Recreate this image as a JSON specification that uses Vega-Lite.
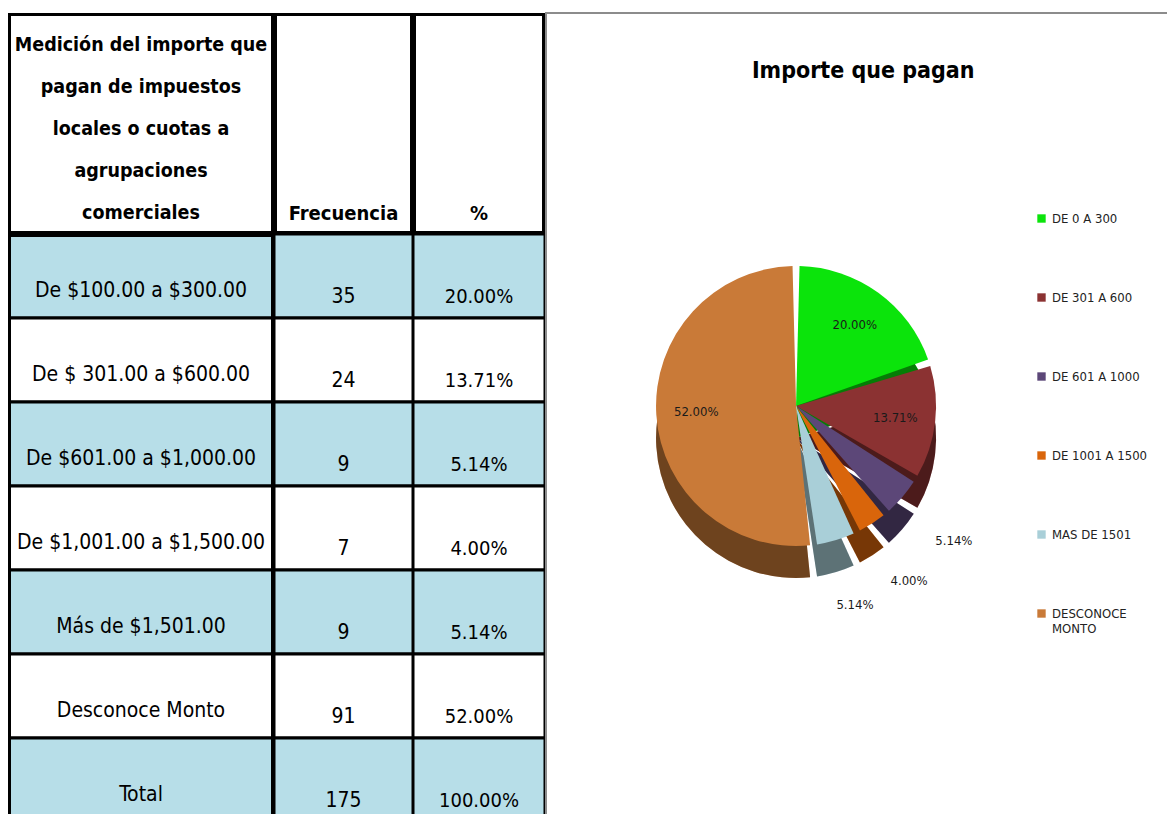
{
  "$schema": "https://vega.github.io/schema/vega-lite/v6.json",
  "padding": {"left": 8, "top": 12, "right": 0, "bottom": 0},
  "background": "white",
  "config": {
    "view": {"stroke": null},
    "concat": {"spacing": 0},
    "font": "DejaVu Sans Condensed, sans-serif"
  },
  "datasets": {
    "rows": [
      {"row": 1, "label": "De $100.00 a $300.00", "freq": "35", "pct": "20.00%"},
      {"row": 2, "label": "De $ 301.00 a $600.00", "freq": "24", "pct": "13.71%"},
      {"row": 3, "label": "De $601.00 a $1,000.00", "freq": "9", "pct": "5.14%"},
      {"row": 4, "label": "De $1,001.00 a $1,500.00", "freq": "7", "pct": "4.00%"},
      {"row": 5, "label": "Más de $1,501.00", "freq": "9", "pct": "5.14%"},
      {"row": 6, "label": "Desconoce Monto", "freq": "91", "pct": "52.00%"},
      {"row": 7, "label": "Total", "freq": "175", "pct": "100.00%"}
    ],
    "pie": [
      {"idx": 1, "cat": "DE 0 A 300", "freq": 35, "pct": "20.00%"},
      {"idx": 2, "cat": "DE 301 A 600", "freq": 24, "pct": "13.71%"},
      {"idx": 3, "cat": "DE 601 A 1000", "freq": 9, "pct": "5.14%"},
      {"idx": 4, "cat": "DE 1001 A 1500", "freq": 7, "pct": "4.00%"},
      {"idx": 5, "cat": "MAS DE 1501", "freq": 9, "pct": "5.14%"},
      {"idx": 6, "cat": "DESCONOCE MONTO", "freq": 91, "pct": "52.00%"}
    ]
  },
  "spacing": 0,
  "hconcat": [
    {
      "spacing": 0,
      "vconcat": [
        {
          "spacing": 0,
          "hconcat": [
            {
              "width": 266, "height": 221,
              "data": {"values": [{"t": "Medición del importe que|pagan de impuestos|locales o cuotas a|agrupaciones|comerciales"}]},
              "layer": [
                {"mark": {"type": "rect", "fill": "white", "stroke": "black", "strokeWidth": 6, "clip": true}, "encoding": {}},
                {"mark": {"type": "text", "fontSize": 19.5, "fontWeight": "bold", "lineBreak": "|", "lineHeight": 42, "baseline": "middle", "dy": -79, "color": "black", "clip": true},
                 "encoding": {"text": {"field": "t", "type": "nominal"}}}
              ]
            },
            {
              "width": 139, "height": 221,
              "data": {"values": [{"t": "Frecuencia"}]},
              "layer": [
                {"mark": {"type": "rect", "fill": "white", "stroke": "black", "strokeWidth": 6, "clip": true}, "encoding": {}},
                {"mark": {"type": "text", "fontSize": 20, "fontWeight": "bold", "baseline": "middle", "dy": 90, "color": "black", "clip": true},
                 "encoding": {"text": {"field": "t", "type": "nominal"}}}
              ]
            },
            {
              "width": 132, "height": 221,
              "data": {"values": [{"t": "%"}]},
              "layer": [
                {"mark": {"type": "rect", "fill": "white", "stroke": "black", "strokeWidth": 6, "clip": true}, "encoding": {}},
                {"mark": {"type": "text", "fontSize": 20, "fontWeight": "bold", "baseline": "middle", "dy": 90, "color": "black", "clip": true},
                 "encoding": {"text": {"field": "t", "type": "nominal"}}}
              ]
            }
          ]
        },
        {
          "spacing": 0,
          "hconcat": [
            {
              "width": 266, "height": 588,
              "data": {"name": "rows"},
              "encoding": {"y": {"field": "row", "type": "ordinal", "axis": null, "scale": {"paddingInner": 0, "paddingOuter": 0}}},
              "layer": [
                {"mark": {"type": "rect", "stroke": "black", "strokeWidth": 3, "clip": true},
                 "encoding": {"fill": {"condition": {"test": "datum.row % 2 == 1", "value": "#B7DEE8"}, "value": "white"}}},
                {"mark": {"type": "rect", "fill": null, "stroke": "black", "strokeWidth": 6, "clip": true}, "encoding": {"y": null}},
                {"mark": {"type": "text", "fontSize": 21, "baseline": "middle", "dy": 15, "color": "black", "clip": true},
                 "encoding": {"text": {"field": "label", "type": "nominal"}}}
              ]
            },
            {
              "width": 139, "height": 588,
              "data": {"name": "rows"},
              "encoding": {"y": {"field": "row", "type": "ordinal", "axis": null, "scale": {"paddingInner": 0, "paddingOuter": 0}}},
              "layer": [
                {"mark": {"type": "rect", "stroke": "black", "strokeWidth": 3, "clip": true},
                 "encoding": {"fill": {"condition": {"test": "datum.row % 2 == 1", "value": "#B7DEE8"}, "value": "white"}}},
                {"mark": {"type": "text", "fontSize": 21, "baseline": "middle", "dy": 21, "color": "black", "clip": true},
                 "encoding": {"text": {"field": "freq", "type": "nominal"}}}
              ]
            },
            {
              "width": 132, "height": 588,
              "data": {"name": "rows"},
              "encoding": {"y": {"field": "row", "type": "ordinal", "axis": null, "scale": {"paddingInner": 0, "paddingOuter": 0}}},
              "layer": [
                {"mark": {"type": "rect", "stroke": "black", "strokeWidth": 3, "clip": true},
                 "encoding": {"fill": {"condition": {"test": "datum.row % 2 == 1", "value": "#B7DEE8"}, "value": "white"}}},
                {"mark": {"type": "text", "fontSize": 20, "baseline": "middle", "dy": 21, "color": "black", "clip": true},
                 "encoding": {"text": {"field": "pct", "type": "nominal"}}}
              ]
            }
          ]
        }
      ]
    },
    {
      "width": 622, "height": 802,
      "view": {"stroke": "#8c8c8c", "strokeWidth": 2},
      "data": {"name": "pie"},
      "layer": [
        {
          "data": {"values": [{"t": "Importe que pagan"}]},
          "mark": {"type": "text", "fontSize": 23, "fontWeight": "bold", "color": "black", "baseline": "middle"},
          "encoding": {
            "x": {"datum": 0.51, "type": "quantitative", "scale": {"domain": [0, 1], "nice": false, "zero": false}, "axis": null},
            "y": {"datum": 0.928, "type": "quantitative", "scale": {"domain": [0, 1], "nice": false, "zero": false}, "axis": null},
            "text": {"field": "t", "type": "nominal"}
          }
        },
        {
          "mark": {"type": "arc", "radius": 140, "padAngle": 0.05, "yOffset": 32},
          "encoding": {
            "x": {"datum": 0.402, "type": "quantitative", "scale": {"domain": [0, 1], "nice": false, "zero": false}, "axis": null},
            "y": {"datum": 0.51, "type": "quantitative", "scale": {"domain": [0, 1], "nice": false, "zero": false}, "axis": null},
            "theta": {"field": "freq", "type": "quantitative", "stack": true},
            "order": {"field": "idx", "type": "quantitative"},
            "color": {
              "field": "cat", "type": "nominal",
              "scale": {
                "domain": ["DE 0 A 300", "DE 301 A 600", "DE 601 A 1000", "DE 1001 A 1500", "MAS DE 1501", "DESCONOCE MONTO"],
                "range": ["#0be40b", "#8b3232", "#5c4778", "#d9650b", "#a9cfd8", "#c97a38"]
              },
              "legend": {
                "orient": "none", "legendX": 1027, "legendY": 199, "title": null,
                "symbolType": "square", "symbolSize": 70, "symbolStrokeWidth": 0,
                "labelFontSize": 13, "labelColor": "#222222", "rowPadding": 65, "labelLimit": 200,
                "labelExpr": "datum.label == 'DESCONOCE MONTO' ? ['DESCONOCE', 'MONTO'] : datum.label"
              }
            }
          }
        },
        {
          "mark": {"type": "arc", "radius": 140, "padAngle": 0.05, "yOffset": 32, "fill": "black", "opacity": 0.45},
          "encoding": {
            "x": {"datum": 0.402, "type": "quantitative", "scale": {"domain": [0, 1], "nice": false, "zero": false}, "axis": null},
            "y": {"datum": 0.51, "type": "quantitative", "scale": {"domain": [0, 1], "nice": false, "zero": false}, "axis": null},
            "theta": {"field": "freq", "type": "quantitative", "stack": true},
            "order": {"field": "idx", "type": "quantitative"}
          }
        },
        {
          "mark": {"type": "arc", "radius": 140, "padAngle": 0.05},
          "encoding": {
            "x": {"datum": 0.402, "type": "quantitative", "scale": {"domain": [0, 1], "nice": false, "zero": false}, "axis": null},
            "y": {"datum": 0.51, "type": "quantitative", "scale": {"domain": [0, 1], "nice": false, "zero": false}, "axis": null},
            "theta": {"field": "freq", "type": "quantitative", "stack": true},
            "order": {"field": "idx", "type": "quantitative"},
            "color": {"field": "cat", "type": "nominal"}
          }
        },
        {
          "mark": {"type": "text", "fontSize": 13, "color": "#1a1a1a", "radius": 100},
          "encoding": {
            "x": {"datum": 0.402, "type": "quantitative", "scale": {"domain": [0, 1], "nice": false, "zero": false}, "axis": null},
            "y": {"datum": 0.51, "type": "quantitative", "scale": {"domain": [0, 1], "nice": false, "zero": false}, "axis": null},
            "theta": {"field": "freq", "type": "quantitative", "stack": true},
            "order": {"field": "idx", "type": "quantitative"},
            "text": {"condition": {"test": "datum.freq >= 20", "field": "pct", "type": "nominal"}, "value": ""}
          }
        },
        {
          "mark": {"type": "text", "fontSize": 13, "color": "#1a1a1a", "radius": 208},
          "encoding": {
            "x": {"datum": 0.402, "type": "quantitative", "scale": {"domain": [0, 1], "nice": false, "zero": false}, "axis": null},
            "y": {"datum": 0.51, "type": "quantitative", "scale": {"domain": [0, 1], "nice": false, "zero": false}, "axis": null},
            "theta": {"field": "freq", "type": "quantitative", "stack": true},
            "order": {"field": "idx", "type": "quantitative"},
            "text": {"condition": {"test": "datum.freq < 20", "field": "pct", "type": "nominal"}, "value": ""}
          }
        }
      ]
    }
  ]
}
